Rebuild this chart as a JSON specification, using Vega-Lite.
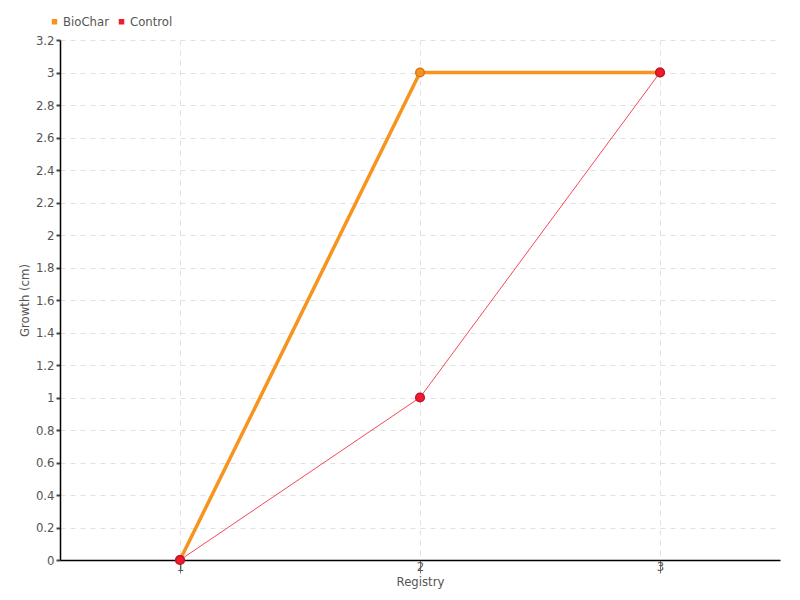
{
  "$schema": "https://vega.github.io/schema/vega-lite/v6.json",
  "width": 720,
  "height": 520,
  "autosize": {"type": "none"},
  "padding": {"left": 60, "top": 40, "right": 20, "bottom": 40},
  "background": "white",
  "config": {
    "font": "DejaVu Sans Condensed, Roboto, sans-serif",
    "view": {"stroke": null},
    "axis": {
      "labelFont": "DejaVu Sans Condensed, Roboto, sans-serif",
      "titleFont": "DejaVu Sans Condensed, Roboto, sans-serif",
      "labelColor": "#555555",
      "titleColor": "#555555",
      "labelFontSize": 13,
      "titleFontSize": 13,
      "titleFontWeight": "normal",
      "domainColor": "#000000",
      "domainWidth": 1.5,
      "gridColor": "#e0e0e0",
      "gridDash": [5, 5],
      "gridWidth": 1
    }
  },
  "data": {
    "values": [
      {"Registry": 1, "Growth": 0, "Series": "BioChar"},
      {"Registry": 2, "Growth": 3, "Series": "BioChar"},
      {"Registry": 3, "Growth": 3, "Series": "BioChar"},
      {"Registry": 1, "Growth": 0, "Series": "Control"},
      {"Registry": 2, "Growth": 1, "Series": "Control"},
      {"Registry": 3, "Growth": 3, "Series": "Control"}
    ]
  },
  "encoding": {
    "x": {
      "field": "Registry",
      "type": "quantitative",
      "scale": {"domain": [0.5, 3.5], "nice": false, "zero": false},
      "axis": {
        "values": [1, 2, 3],
        "title": "Registry",
        "titlePadding": 2,
        "tickColor": "#777777",
        "tickSize": 13,
        "labelPadding": -13,
        "tickWidth": 1
      }
    },
    "y": {
      "field": "Growth",
      "type": "quantitative",
      "scale": {"domain": [0, 3.2], "nice": false},
      "axis": {
        "values": [0, 0.2, 0.4, 0.6, 0.8, 1, 1.2, 1.4, 1.6, 1.8, 2, 2.2, 2.4, 2.6, 2.8, 3, 3.2],
        "format": ".1~f",
        "title": "Growth (cm)",
        "titlePadding": 4,
        "tickColor": "#444444",
        "tickSize": 4,
        "tickWidth": 2,
        "labelPadding": 2
      }
    },
    "color": {
      "field": "Series",
      "type": "nominal",
      "scale": {"domain": ["BioChar", "Control"], "range": ["#f7941d", "#ee1c30"]},
      "legend": {
        "title": null,
        "orient": "none",
        "legendX": -12,
        "legendY": -25,
        "direction": "horizontal",
        "symbolType": "square",
        "symbolSize": 30,
        "symbolStrokeWidth": 0,
        "symbolOpacity": 1,
        "labelFontSize": 13,
        "labelColor": "#555555",
        "labelFont": "DejaVu Sans Condensed, Roboto, sans-serif",
        "symbolOffset": 0,
        "labelOffset": 2,
        "columnPadding": 6
      }
    }
  },
  "layer": [
    {
      "transform": [{"filter": "datum.Series === 'Control'"}],
      "mark": {"type": "line", "strokeWidth": 1, "opacity": 0.8}
    },
    {
      "transform": [{"filter": "datum.Series === 'BioChar'"}],
      "mark": {"type": "line", "strokeWidth": 3.5}
    },
    {
      "mark": {"type": "point", "filled": true, "opacity": 1, "strokeWidth": 1.5, "size": 75},
      "encoding": {
        "stroke": {
          "field": "Series",
          "type": "nominal",
          "scale": {"domain": ["BioChar", "Control"], "range": ["#d9761a", "#c8102a"]},
          "legend": null
        }
      }
    }
  ]
}
